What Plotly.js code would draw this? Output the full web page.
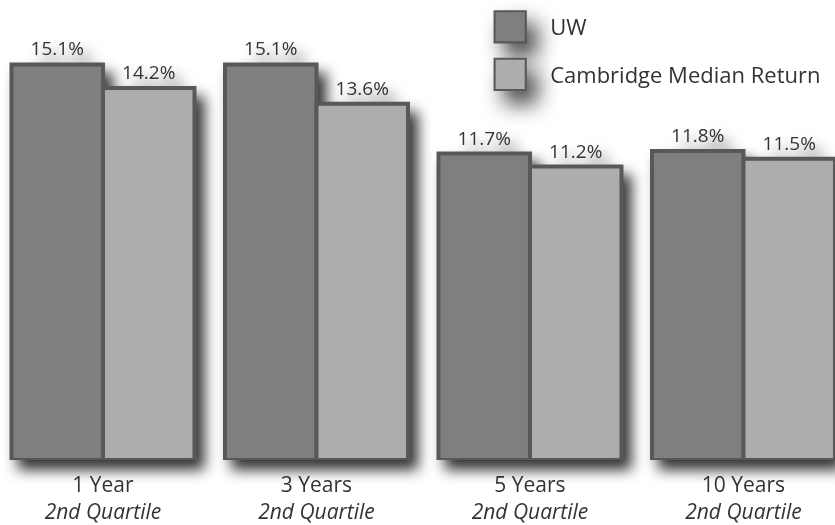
<!DOCTYPE html>
<html>
<head>
<meta charset="utf-8">
<script src="https://cdn.plot.ly/plotly-3.0.1.min.js"></script>
<style>
  html, body { margin: 0; padding: 0; background: #fff; }
  #chart { width: 835px; height: 525px; }
  .barlayer { filter: drop-shadow(8px 10px 7px rgba(0,0,0,0.8)); }
  .legendpoints path { filter: drop-shadow(4px 5px 4px rgba(0,0,0,0.75)); }
</style>
</head>
<body>
<div id="chart"></div>
<script>
const periods = ["1 Year", "3 Years", "5 Years", "10 Years"];
const subLabels = ["2nd Quartile", "2nd Quartile", "2nd Quartile", "2nd Quartile"];
const seriesNames = ["UW", "Cambridge Median Return"];
const uwValues = [15.1, 15.1, 11.7, 11.8];
const cambridgeValues = [14.2, 13.6, 11.2, 11.5];

const tickText = periods.map((p, i) => p + "<br><i>" + subLabels[i] + "</i>");
const fontFam = "'Open Sans', 'DejaVu Sans', sans-serif";

function barTrace(name, vals, fill, group) {
  return {
    type: "bar",
    name: name,
    x: periods,
    y: vals,
    legendgroup: group,
    marker: { color: fill, line: { color: "#585858", width: 4 } },
    text: vals.map(v => v.toFixed(1) + "%"),
    textposition: "outside",
    constraintext: "none",
    textfont: { family: fontFam, size: 19, color: "#333" },
    cliponaxis: false,
    hoverinfo: "skip"
  };
}

const data = [
  barTrace(seriesNames[0], uwValues, "#7f7f7f", "a"),
  barTrace(seriesNames[1], cambridgeValues, "#adadad", "b")
];

const layout = {
  width: 835,
  height: 525,
  margin: { l: 0, r: 0, t: 0, b: 65 },
  paper_bgcolor: "#ffffff",
  plot_bgcolor: "#ffffff",
  barmode: "group",
  bargap: 0.143,
  bargroupgap: 0,
  font: { family: fontFam, size: 20, color: "#333" },
  xaxis: {
    type: "category",
    range: [-0.4824, 3.4286],
    tickmode: "array",
    tickvals: periods,
    ticktext: tickText,
    tickfont: { family: fontFam, size: 21, color: "#333" },
    ticklabelstandoff: 10,
    automargin: false,
    showgrid: false,
    zeroline: false,
    showline: false,
    ticks: ""
  },
  yaxis: {
    range: [0, 17.56],
    visible: false,
    showgrid: false,
    zeroline: false
  },
  showlegend: true,
  legend: {
    x: 0.611,
    y: 0.987,
    xanchor: "left",
    yanchor: "top",
    orientation: "v",
    font: { family: fontFam, size: 22, color: "#333" },
    tracegroupgap: 16,
    bgcolor: "rgba(0,0,0,0)"
  }
};

Plotly.newPlot("chart", data, layout, { displayModeBar: false, staticPlot: true }).then(function (gd) {
  gd.querySelectorAll(".legend [clip-path]").forEach(function (el) {
    el.removeAttribute("clip-path");
  });
  gd.querySelectorAll(".legendpoints path").forEach(function (p) {
    p.setAttribute("transform", "scale(2.6)");
    p.style.strokeWidth = "0.8px";
  });
});
</script>
</body>
</html>
